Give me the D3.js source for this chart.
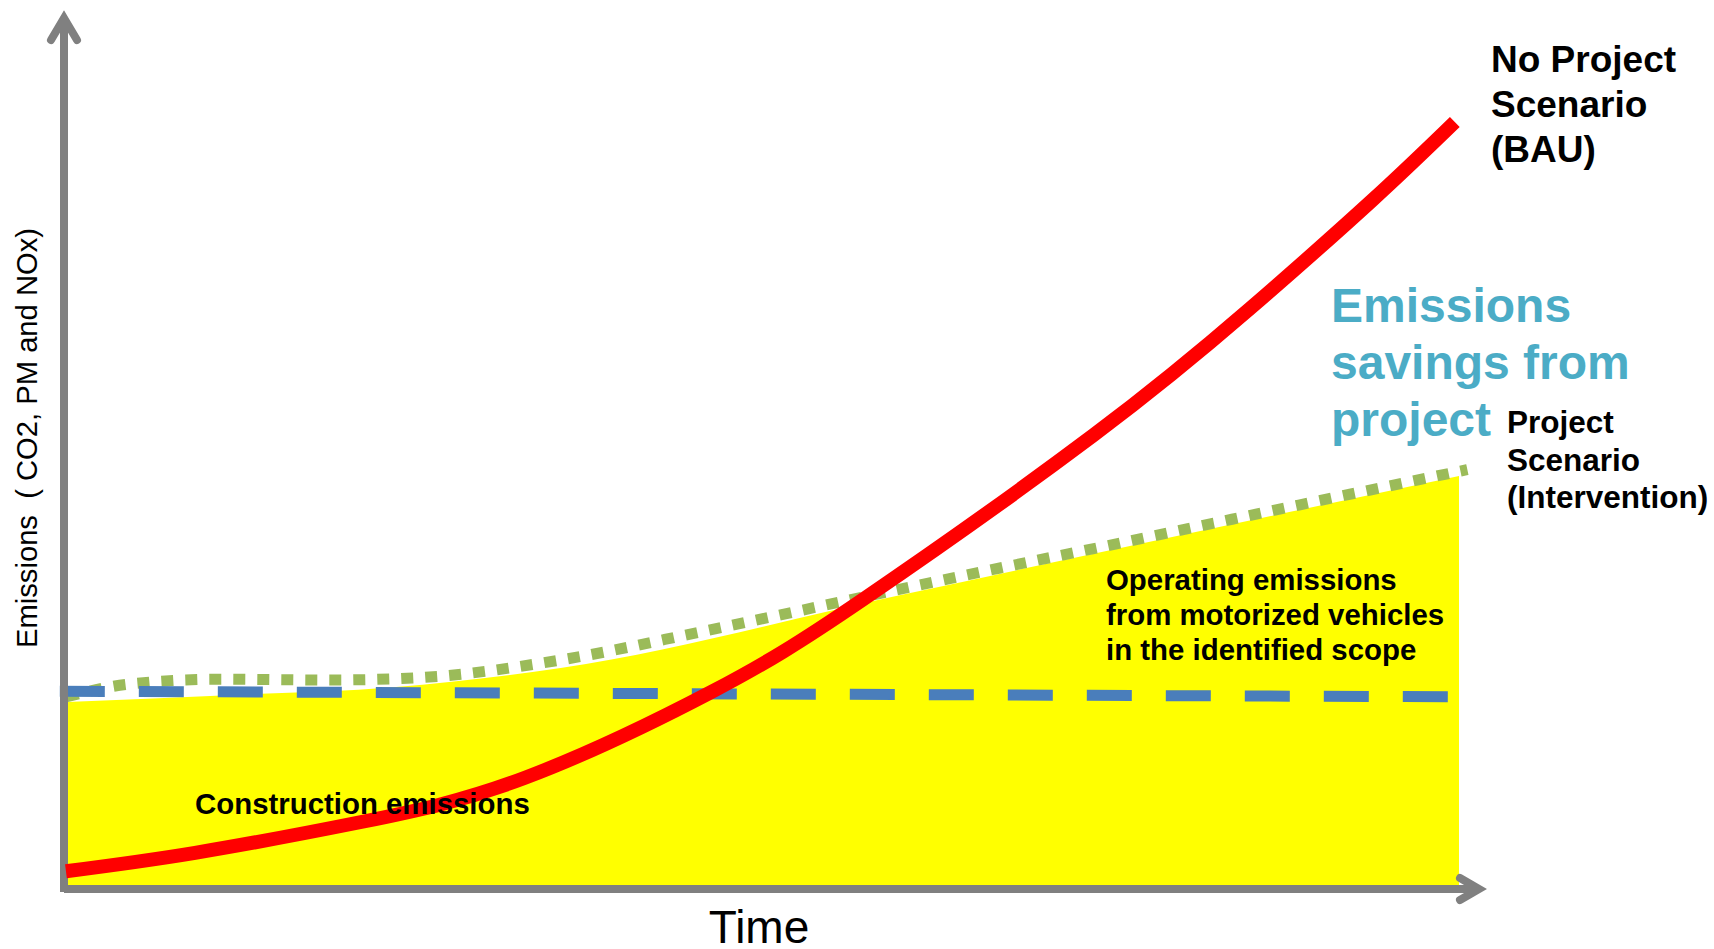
<!DOCTYPE html>
<html>
<head>
<meta charset="utf-8">
<script src="https://cdn.jsdelivr.net/npm/d3@7"></script>
<style>
  html, body { margin: 0; padding: 0; background: #ffffff; }
  svg { display: block; font-family: "Liberation Sans", Arial, Helvetica, sans-serif; }
</style>
</head>
<body>
<svg id="chart" width="1714" height="949"></svg>
<script>
// Time runs 0..100, emissions 0..100 (schematic units)

// No Project Scenario (BAU)
const bauTime      = [0.14, 9.4, 21.3, 33.0, 46.4, 57.3, 73.8, 85.0, 93.8, 99.7];
const bauEmissions = [2.1, 4.4, 8.25, 13.75, 24.5, 36.1, 56.6, 72.4, 86.0, 95.75];

// Project Scenario (Intervention) – dotted line
const projectTime      = [0.2, 4.7, 11.2, 19.1, 25.5, 35.6, 45.6, 56.3, 67.1, 74.3, 88.6, 100.6];
const projectEmissions = [23.9, 25.5, 26.1, 26.0, 26.3, 28.5, 32.0, 36.0, 40.0, 42.6, 47.9, 52.3];

// Operating + construction emissions under the project – filled area
const fillTime      = [0.2, 11.7, 23.6, 35.6, 59.9, 100];
const fillEmissions = [23.25, 24.1, 25.1, 27.5, 36.6, 51.5];

// Construction emissions level – dashed line
const constructionTime      = [-0.3, 99.7];
const constructionEmissions = [24.6, 23.9];

const labelBAU       = ["No Project", "Scenario", "(BAU)"];
const labelSavings   = ["Emissions", "savings from", "project"];
const labelProject   = ["Project", "Scenario", "(Intervention)"];
const labelOperating = ["Operating emissions", "from motorized vehicles", "in the identified scope"];
const labelConstruction = "Construction emissions";
const labelX = "Time";
const labelY = "Emissions  ( CO2, PM and NOx)";

const svg = d3.select("#chart");
const x = d3.scaleLinear().domain([0, 100]).range([64, 1459]);
const y = d3.scaleLinear().domain([0, 100]).range([888, 88]);

const zip = (ts, vs) => ts.map((t, i) => ({ t, v: vs[i] }));

// filled area
svg.append("path")
  .datum(zip(fillTime, fillEmissions))
  .attr("fill", "#FFFF00")
  .attr("d", d3.area().curve(d3.curveMonotoneX)
    .x(d => x(d.t)).y0(y(0)).y1(d => y(d.v)));

// project scenario dotted line
svg.append("path")
  .datum(zip(projectTime, projectEmissions))
  .attr("fill", "none")
  .attr("stroke", "#9BBB59")
  .attr("stroke-width", 11)
  .attr("stroke-dasharray", "12 12")
  .attr("d", d3.line().curve(d3.curveMonotoneX).x(d => x(d.t)).y(d => y(d.v)));

// construction level dashed line
svg.append("path")
  .datum(zip(constructionTime, constructionEmissions))
  .attr("fill", "none")
  .attr("stroke", "#4A7EBB")
  .attr("stroke-width", 11)
  .attr("stroke-dasharray", "45 34")
  .attr("d", d3.line().x(d => x(d.t)).y(d => y(d.v)));

// axes with open arrow heads
const axisColor = "#808080";
const axes = svg.append("g")
  .attr("fill", "none")
  .attr("stroke", axisColor)
  .attr("stroke-width", 8);
const ax0 = x(0), ay0 = y(0) + 1;
axes.append("line").attr("x1", ax0).attr("x2", ax0).attr("y1", ay0 + 3).attr("y2", 19);
axes.append("polyline").attr("stroke-linecap", "round").attr("stroke-linejoin", "miter")
  .attr("points", `${ax0 - 13},40 ${ax0},18 ${ax0 + 13},40`);
axes.append("line").attr("x1", ax0).attr("x2", 1478).attr("y1", ay0).attr("y2", ay0);
axes.append("polyline").attr("stroke-linecap", "round").attr("stroke-linejoin", "miter")
  .attr("points", `1460,${ay0 - 11} 1479,${ay0} 1460,${ay0 + 11}`);

// BAU curve
svg.append("path")
  .datum(zip(bauTime, bauEmissions))
  .attr("fill", "none")
  .attr("stroke", "#FF0000")
  .attr("stroke-width", 14)
  .attr("d", d3.line().curve(d3.curveNatural).x(d => x(d.t)).y(d => y(d.v)));

// text blocks
function block(lines, x0, y0, lh, size, weight, color) {
  const t = svg.append("text")
    .attr("x", x0).attr("y", y0)
    .attr("font-size", size).attr("font-weight", weight).attr("fill", color);
  lines.forEach((s, i) => t.append("tspan").attr("x", x0).attr("y", y0 + i * lh).text(s));
}
block(labelBAU, 1491, 72, 45, 37, "bold", "#000");
block(labelSavings, 1331, 322, 57, 48, "bold", "#4BACC6");
block(labelProject, 1507, 433, 37.5, 31.5, "bold", "#000");
block(labelOperating, 1106, 590, 35, 29.4, "bold", "#000");
block([labelConstruction], 195, 814, 0, 29.4, "bold", "#000");

svg.append("text")
  .attr("x", 759).attr("y", 943)
  .attr("text-anchor", "middle")
  .attr("font-size", 46).attr("fill", "#000")
  .text(labelX);

svg.append("text")
  .attr("transform", "translate(37,438) rotate(-90)")
  .attr("text-anchor", "middle")
  .attr("font-size", 29.2).attr("fill", "#000")
  .style("white-space", "pre")
  .text(labelY);
</script>
</body>
</html>
